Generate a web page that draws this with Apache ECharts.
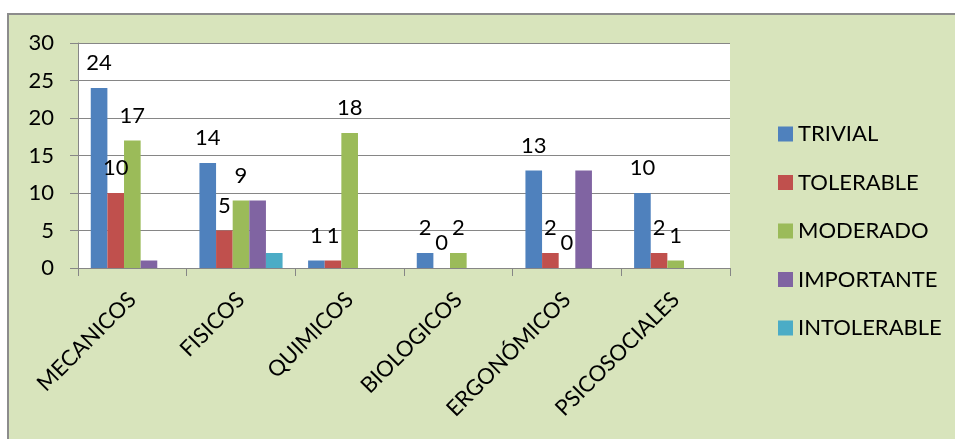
<!DOCTYPE html>
<html>
<head>
<meta charset="utf-8">
<script src="https://cdn.jsdelivr.net/npm/echarts@6/dist/echarts.min.js"></script>
<style>
html,body{margin:0;padding:0;background:#fff;}
#c{width:955px;height:439px;}
</style>
</head>
<body>
<div id="c"></div>
<script>
const categories = ['MECANICOS', 'FISICOS', 'QUIMICOS', 'BIOLOGICOS', 'ERGONÓMICOS', 'PSICOSOCIALES'];
const trivial     = [24, 14, 1, 2, 13, 10];
const tolerable   = [10, 5, 1, 0, 2, 2];
const moderado    = [17, 9, 18, 2, 0, 1];
const importante  = [1, 9, 0, 0, 13, 0];
const intolerable = [0, 2, 0, 0, 0, 0];
const yTicks = [0, 5, 10, 15, 20, 25, 30];

const FONT = 'Lato';
const GRAY = '#868686';

function mk(name, data, color, showLabel) {
  return {
    name: name, type: 'bar', data: data,
    barGap: '0%', barCategoryGap: '23.5%',
    itemStyle: { color: color },
    label: {
      show: showLabel, position: 'top', distance: 14,
      fontFamily: FONT, fontSize: 22, color: '#000'
    }
  };
}

const chart = echarts.init(document.getElementById('c'));
chart.setOption({
  animation: false,
  textStyle: { fontFamily: FONT },
  graphic: [{
    type: 'rect', z: -100, silent: true,
    shape: { x: 8, y: 14, width: 1000, height: 500 },
    style: { fill: '#D8E4BC', stroke: '#8C8C8C', lineWidth: 2 }
  }],
  grid: {
    left: 78, top: 43, width: 652, height: 225,
    show: true, backgroundColor: '#fff', borderWidth: 0
  },
  legend: {
    orient: 'vertical', left: 773, top: 118,
    itemWidth: 15, itemHeight: 15, itemGap: 26.5,
    icon: 'rect',
    textStyle: { fontFamily: FONT, fontSize: 22, color: '#000', lineHeight: 22 },
    data: ['TRIVIAL', 'TOLERABLE', 'MODERADO', 'IMPORTANTE', 'INTOLERABLE']
  },
  xAxis: {
    type: 'category', data: categories,
    axisLine: { lineStyle: { color: GRAY, width: 1 } },
    axisTick: { show: true, length: 8, lineStyle: { color: GRAY } },
    axisLabel: {
      interval: 0, rotate: 45, margin: 28,
      fontFamily: FONT, fontSize: 22, color: '#000'
    }
  },
  yAxis: {
    type: 'value', min: yTicks[0], max: yTicks[yTicks.length - 1], interval: yTicks[1] - yTicks[0],
    axisLine: { show: true, lineStyle: { color: GRAY, width: 1 } },
    axisTick: { show: true, length: 8, lineStyle: { color: GRAY } },
    splitLine: { show: true, lineStyle: { color: GRAY, width: 1 } },
    axisLabel: { margin: 24, fontFamily: FONT, fontSize: 22, color: '#000' }
  },
  series: [
    mk('TRIVIAL', trivial, '#4F81BD', true),
    mk('TOLERABLE', tolerable, '#C0504D', true),
    mk('MODERADO', moderado, '#9BBB59', true),
    mk('IMPORTANTE', importante, '#8064A2', false),
    mk('INTOLERABLE', intolerable, '#4BACC6', false)
  ]
});
</script>
</body>
</html>
